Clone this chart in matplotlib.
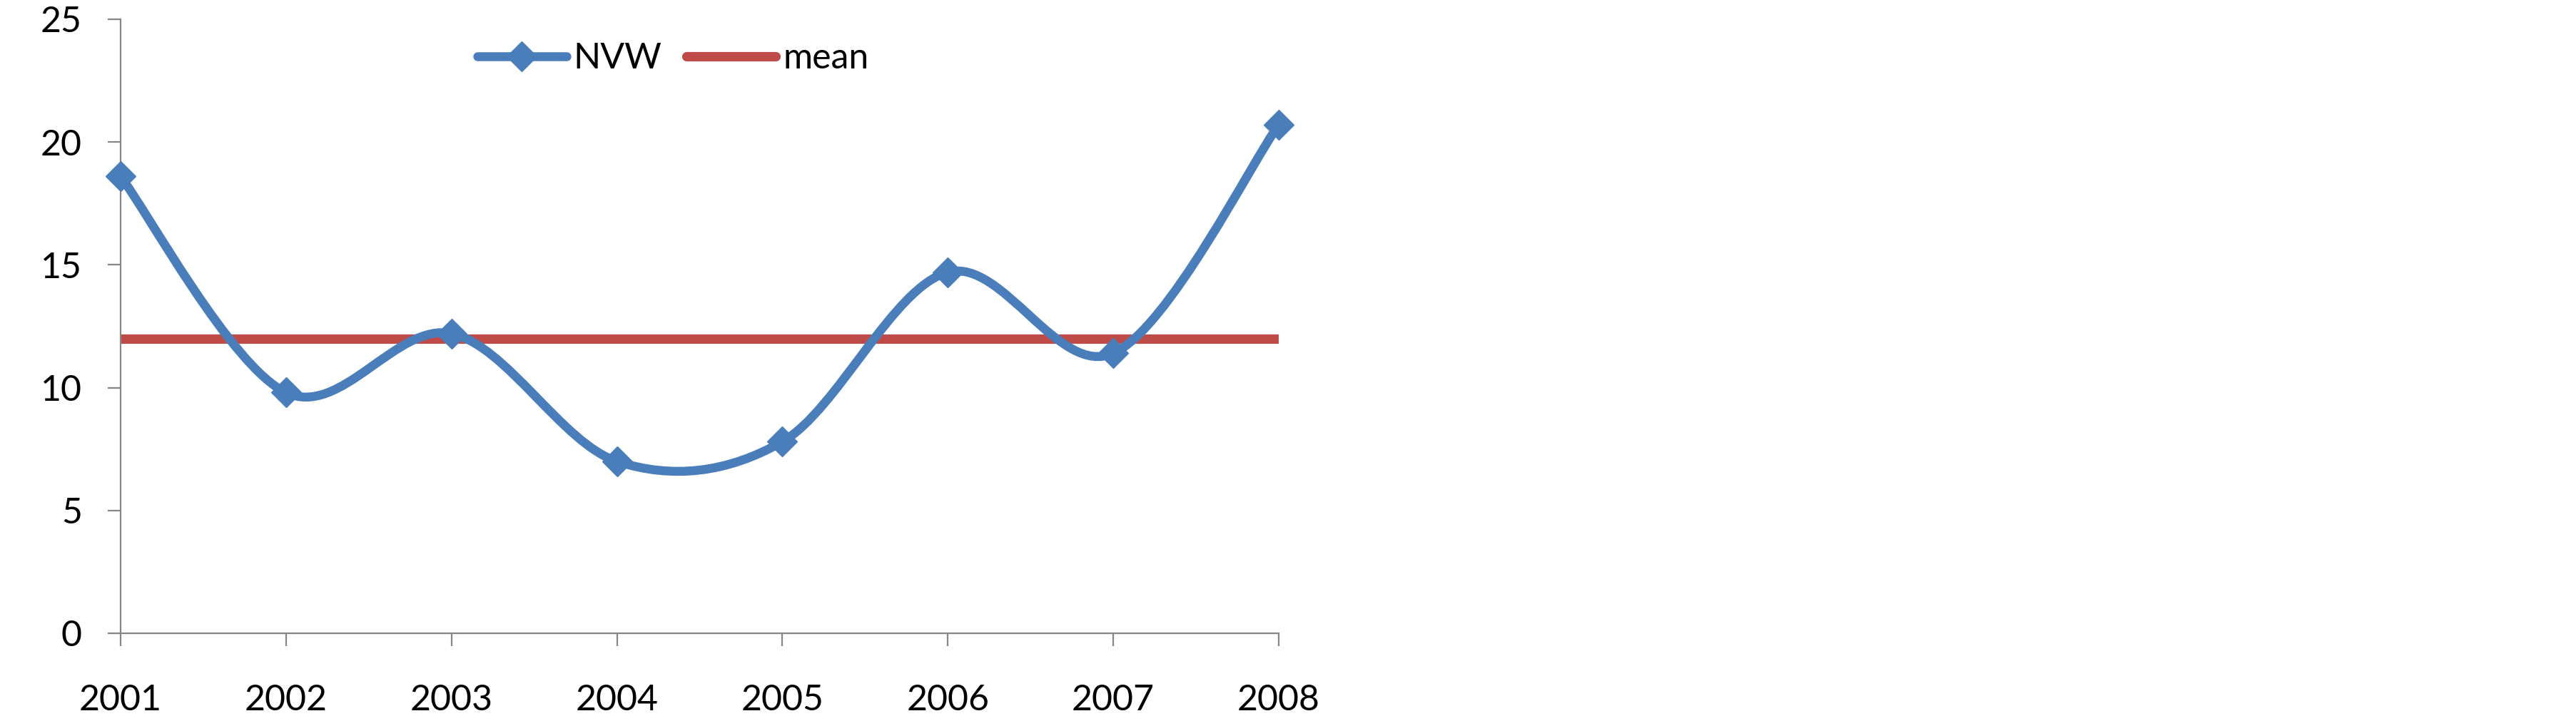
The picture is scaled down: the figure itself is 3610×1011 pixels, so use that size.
# NVW per year with its mean, smoothed line as in the spreadsheet chart

import numpy as np
import matplotlib.pyplot as plt
from matplotlib.path import Path
from matplotlib.patches import PathPatch
from matplotlib.lines import Line2D

years = [2001, 2002, 2003, 2004, 2005, 2006, 2007, 2008]
nvw = [18.6, 9.8, 12.2, 7.0, 7.8, 14.7, 11.4, 20.7]
mean = [12.0] * len(years)
yticks = [0, 5, 10, 15, 20, 25]

blue = '#4A7EBB'
red = '#BE4B48'
grey = '#868686'


def smooth_path(x, y):
    # cubic bezier pieces through every point (catmull-rom style tangents)
    x = np.asarray(x, float)
    y = np.asarray(y, float)
    n = len(x)
    verts = [(x[0], y[0])]
    codes = [Path.MOVETO]
    for i in range(n - 1):
        a = max(i - 1, 0)
        b = min(i + 2, n - 1)
        c1 = (x[i] + (x[i + 1] - x[a]) / 6.0, y[i] + (y[i + 1] - y[a]) / 6.0)
        c2 = (x[i + 1] - (x[b] - x[i]) / 6.0, y[i + 1] - (y[b] - y[i]) / 6.0)
        verts += [c1, c2, (x[i + 1], y[i + 1])]
        codes += [Path.CURVE4] * 3
    return Path(verts, codes)


plt.rcParams['font.family'] = ['Lato', 'DejaVu Sans']

fig = plt.figure(figsize=(36.1, 10.11), dpi=100)
ax = fig.add_axes([0.0468, 0.1217, 0.4496, 0.8516])

ax.plot(years, mean, color=red, lw=9.5, solid_capstyle='butt', zorder=2)
ax.add_patch(PathPatch(smooth_path(years, nvw), facecolor='none', edgecolor=blue,
                       lw=9, capstyle='round', zorder=3))
ax.plot(years, nvw, ls='none', marker='D', ms=21, color=blue, zorder=4, clip_on=False)

ax.set_xlim(years[0], years[-1])
ax.set_ylim(0, 25)
ax.set_xticks(years)
ax.set_yticks(yticks)
ax.set_xticklabels([str(y) for y in years])

for s in ['top', 'right']:
    ax.spines[s].set_visible(False)
for s in ['left', 'bottom']:
    ax.spines[s].set_color(grey)
    ax.spines[s].set_linewidth(1.6)

ax.tick_params(axis='both', colors=grey, labelcolor='black', labelsize=36,
               length=13, width=1.6, direction='out')
ax.tick_params(axis='x', pad=38)
ax.tick_params(axis='y', pad=26)

handles = [
    Line2D([], [], color=blue, lw=9, marker='D', ms=21, solid_capstyle='round'),
    Line2D([], [], color=red, lw=9.5, solid_capstyle='round'),
]
ax.legend(handles, ['NVW', 'mean'], loc='center', bbox_to_anchor=(0.477, 0.936),
          ncol=2, frameon=False, fontsize=36, handlelength=2.5,
          handletextpad=0.2, columnspacing=0.7, borderpad=0)

fig.savefig('out.png', dpi=100)
